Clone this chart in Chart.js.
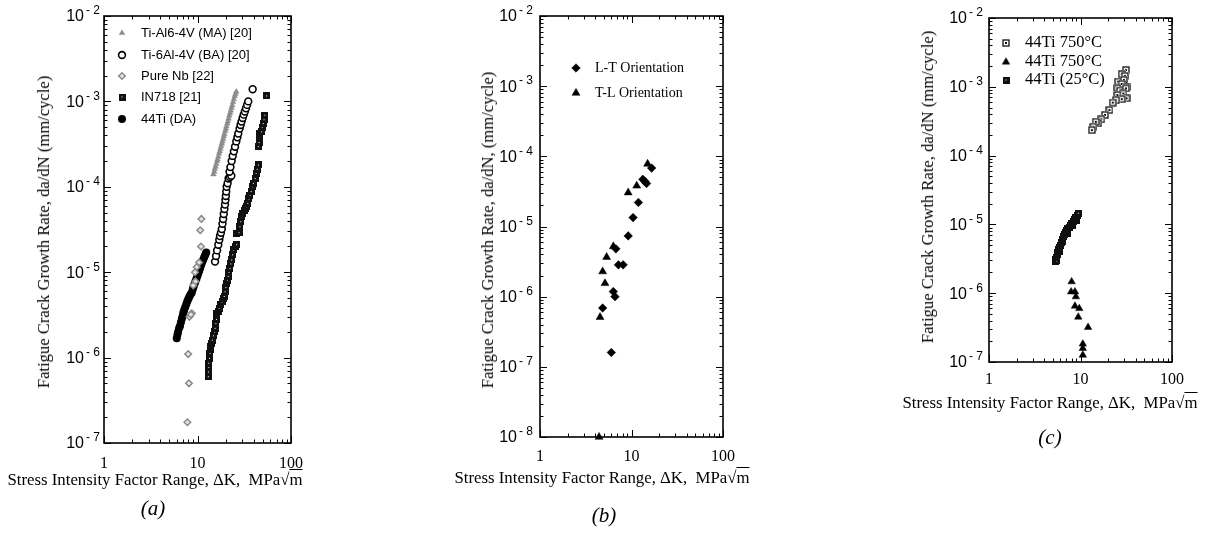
<!DOCTYPE html>
<html><head><meta charset="utf-8">
<script src="https://cdn.jsdelivr.net/npm/chart.js@4/dist/chart.umd.min.js"></script>
<style>
body{margin:0;width:1206px;height:536px;background:#fff;position:relative;overflow:hidden;font-family:'Liberation Serif','Times New Roman',serif;color:#000;}
canvas{position:absolute;top:0;}
.t{position:absolute;white-space:nowrap;color:#000;}
.yt{transform:translate(-50%,-50%) rotate(-90deg);font-size:16.6px;}
.xt{transform:translate(-50%,-50%);font-size:16.8px;}
.cap{transform:translate(-50%,-50%);font-size:21px;font-style:italic;}
.ov{text-decoration:overline;}
</style></head><body>
<canvas id="ca" width="320" height="536" style="left:0"></canvas>
<canvas id="cb" width="360" height="536" style="left:400px"></canvas>
<canvas id="cc" width="346" height="536" style="left:860px"></canvas>

<div class="t yt" style="left:44px;top:232px">Fatigue Crack Growth Rate, da/dN (mm/cycle)</div>
<div class="t yt" style="left:488px;top:230px">Fatigue Crack Growth Rate, da/dN, (mm/cycle)</div>
<div class="t yt" style="left:928px;top:187px">Fatigue Crack Growth Rate, da/dN (mm/cycle)</div>
<div class="t xt" style="left:155px;top:480px">Stress Intensity Factor Range, ΔK,&nbsp; MPa√<span class="ov">m</span></div>
<div class="t xt" style="left:602px;top:478px">Stress Intensity Factor Range, ΔK,&nbsp; MPa√<span class="ov">m</span></div>
<div class="t xt" style="left:1050px;top:403px">Stress Intensity Factor Range, ΔK,&nbsp; MPa√<span class="ov">m</span></div>
<div class="t cap" style="left:153px;top:508px">(<i>a</i>)</div>
<div class="t cap" style="left:604px;top:515px">(<i>b</i>)</div>
<div class="t cap" style="left:1050px;top:437px">(<i>c</i>)</div>

<script>
// ---------- tick values / labels ----------
const xMajors = [1, 10, 100];
const xMajorLabels = ['1', '10', '100'];
const yMajorsA = [1e-7, 1e-6, 1e-5, 1e-4, 1e-3, 1e-2];
const yExpsA = ['-7', '-6', '-5', '-4', '-3', '-2'];
const yMajorsB = [1e-8, 1e-7, 1e-6, 1e-5, 1e-4, 1e-3, 1e-2];
const yExpsB = ['-8', '-7', '-6', '-5', '-4', '-3', '-2'];
const yMajorsC = [1e-7, 1e-6, 1e-5, 1e-4, 1e-3, 1e-2];
const yExpsC = ['-7', '-6', '-5', '-4', '-3', '-2'];

// ---------- panel (a) data: [ΔK, da/dN] ----------
const labelsA = ['Ti-Al6-4V (MA) [20]', 'Ti-6Al-4V (BA) [20]', 'Pure Nb [22]', 'IN718 [21]', '44Ti (DA)'];
const tiMA = [[14.8,1.4e-4],[15.1,1.5e-4],[15.3,1.62e-4],[15.6,1.72e-4],[15.9,1.85e-4],[16.2,2.0e-4],[16.4,2.1e-4],[16.7,2.25e-4],[17.0,2.45e-4],[17.3,2.6e-4],[17.6,2.8e-4],[17.9,3.0e-4],[18.2,3.2e-4],[18.5,3.4e-4],[18.8,3.65e-4],[19.1,3.9e-4],[19.4,4.15e-4],[19.8,4.5e-4],[20.1,4.8e-4],[20.4,5.1e-4],[20.8,5.5e-4],[21.1,5.85e-4],[21.5,6.3e-4],[21.9,6.8e-4],[22.3,7.3e-4],[22.7,7.8e-4],[23.1,8.4e-4],[23.5,9.0e-4],[24.0,9.8e-4],[24.5,1.06e-3],[25.0,1.15e-3],[25.5,1.22e-3],[26.0,1.3e-3]];
const tiBA = [[15.4,1.33e-5],[15.8,1.55e-5],[16.2,1.8e-5],[16.7,2.1e-5],[17.1,2.4e-5],[17.4,2.65e-5],[17.8,2.9e-5],[18.2,3.2e-5],[18.5,3.7e-5],[18.8,4.2e-5],[19.1,4.8e-5],[19.4,5.5e-5],[19.7,6.2e-5],[19.9,7.0e-5],[20.1,7.8e-5],[20.3,8.8e-5],[20.5,1.0e-4],[21.0,1.1e-4],[21.5,1.25e-4],[22.2,1.3e-4],[23.0,1.35e-4],[22.0,1.5e-4],[22.5,1.7e-4],[23.2,2.0e-4],[23.8,2.3e-4],[24.5,2.6e-4],[25.2,2.95e-4],[26.0,3.4e-4],[26.7,3.8e-4],[27.3,4.2e-4],[28.2,4.8e-4],[28.9,5.3e-4],[29.6,5.8e-4],[30.4,6.4e-4],[31.2,7.0e-4],[32.1,7.6e-4],[33.0,8.3e-4],[33.9,9.1e-4],[34.9,1.0e-3],[38.9,1.39e-3]];
const pureNb = [[11.0,4.2e-5],[10.7,3.1e-5],[10.9,2.0e-5],[10.4,1.3e-5],[9.8,1.15e-5],[9.4,1.0e-5],[9.5,7.8e-6],[9.0,7.0e-6],[8.7,3.3e-6],[8.2,3.0e-6],[8.5,3.2e-6],[7.95,1.1e-6],[8.1,5.0e-7],[7.8,1.75e-7]];
const in718 = [[13.05,5.97e-7],[13.1,6.8e-7],[13.2,7.7e-7],[13.2,8.6e-7],[13.4,9.8e-7],[13.6,1.12e-6],[13.7,1.25e-6],[13.9,1.36e-6],[14.1,1.47e-6],[14.4,1.6e-6],[14.8,1.8e-6],[15.2,2.0e-6],[15.4,2.2e-6],[15.7,2.5e-6],[16.0,2.8e-6],[16.1,3.3e-6],[16.6,3.5e-6],[17.1,3.8e-6],[17.7,4.2e-6],[18.3,4.5e-6],[18.8,4.9e-6],[19.3,5.2e-6],[19.7,5.9e-6],[20.1,6.6e-6],[20.5,7.4e-6],[20.9,8.1e-6],[21.3,8.9e-6],[21.7,1.0e-5],[22.2,1.1e-5],[22.7,1.25e-5],[23.2,1.39e-5],[23.7,1.6e-5],[24.2,1.82e-5],[25.2,2.0e-5],[26.2,2.1e-5],[26.2,2.85e-5],[27.8,2.9e-5],[28.4,3.4e-5],[29.0,3.9e-5],[29.6,4.47e-5],[30.5,4.9e-5],[31.5,5.3e-5],[32.4,5.6e-5],[33.4,5.85e-5],[34.5,6.4e-5],[35.5,7.2e-5],[36.4,8.0e-5],[37.5,8.8e-5],[38.9,1.0e-4],[39.6,1.1e-4],[41.3,1.25e-4],[42.3,1.44e-4],[43.5,1.6e-4],[44.7,1.8e-4],[44.7,2.95e-4],[45.5,3.3e-4],[46.5,3.87e-4],[45.8,4.2e-4],[48.4,4.4e-4],[49.3,5.0e-4],[50.5,5.5e-4],[51.5,6.1e-4],[52.6,6.9e-4],[54.8,1.16e-3]];
const ti44DA = [[6.0,1.68e-6],[6.1,1.85e-6],[6.2,2.0e-6],[6.35,2.2e-6],[6.5,2.35e-6],[6.65,2.6e-6],[6.8,2.85e-6],[6.95,3.1e-6],[7.05,3.35e-6],[7.2,3.6e-6],[7.4,3.9e-6],[7.6,4.25e-6],[7.8,4.6e-6],[8.0,4.9e-6],[8.2,5.2e-6],[8.45,5.5e-6],[8.7,5.8e-6],[8.9,6.3e-6],[9.1,6.8e-6],[9.3,7.3e-6],[9.5,7.8e-6],[9.75,8.4e-6],[10.0,9.1e-6],[10.2,9.7e-6],[10.45,1.05e-5],[10.7,1.13e-5],[10.95,1.22e-5],[11.2,1.31e-5],[11.5,1.4e-5],[11.8,1.5e-5],[12.1,1.6e-5],[12.4,1.7e-5]];

// ---------- panel (b) data ----------
const labelsB = ['L-T Orientation', 'T-L Orientation'];
const orientLT = [[16.6,6.8e-5],[14.6,4.1e-5],[13.3,4.7e-5],[14.0,4.4e-5],[11.9,2.2e-5],[10.4,1.34e-5],[9.2,7.35e-6],[6.75,4.8e-6],[8.1,2.84e-6],[7.2,2.84e-6],[6.33,1.18e-6],[6.6,1.0e-6],[4.84,6.9e-7],[6.02,1.6e-7]];
const orientTL = [[15.0,7.8e-5],[11.4,3.8e-5],[9.2,3.04e-5],[6.33,5.2e-6],[5.35,3.66e-6],[4.84,2.28e-6],[5.13,1.55e-6],[4.53,5.1e-7],[4.42,1e-8]];

// ---------- panel (c) data ----------
const labelsC = ['44Ti 750°C', '44Ti 750°C', '44Ti (25°C)'];
const ti750sq = [[31.4,1.75e-3],[28.2,1.53e-3],[30.5,1.44e-3],[29.8,1.26e-3],[25.8,1.19e-3],[28.2,1.10e-3],[32.4,1.0e-3],[31.4,9.5e-4],[25.3,9.5e-4],[27.0,8.8e-4],[29.4,8.0e-4],[31.9,6.8e-4],[25.3,7.6e-4],[28.2,6.6e-4],[24.5,6.4e-4],[22.5,5.9e-4],[20.7,4.6e-4],[18.5,3.9e-4],[16.9,3.37e-4],[15.6,2.95e-4],[14.7,3.1e-4],[13.8,2.63e-4],[13.3,2.35e-4]];
const ti750tri = [[8.0,1.47e-6],[7.9,1.05e-6],[8.7,1.05e-6],[8.9,8.9e-7],[8.7,6.5e-7],[9.7,6.0e-7],[9.45,4.5e-7],[12.1,3.2e-7],[10.6,1.83e-7],[10.6,1.58e-7],[10.6,1.26e-7]];
const ti25 = [[5.27,2.87e-6],[5.35,3.1e-6],[5.5,2.95e-6],[5.45,3.3e-6],[5.55,3.6e-6],[5.65,3.95e-6],[5.9,4.0e-6],[5.75,4.25e-6],[5.9,4.6e-6],[6.05,5.0e-6],[6.2,5.5e-6],[6.4,5.6e-6],[6.3,6.1e-6],[6.45,6.6e-6],[6.65,7.1e-6],[7.2,7.4e-6],[6.85,7.6e-6],[7.05,8.1e-6],[7.3,8.6e-6],[7.55,9.0e-6],[8.2,9.5e-6],[7.8,9.6e-6],[8.05,1.03e-5],[8.3,1.1e-5],[9.0,1.15e-5],[8.6,1.18e-5],[8.9,1.27e-5],[9.2,1.36e-5],[9.47,1.45e-5]];

// ---------- marker images ----------
function filledSquare(){
  const c = document.createElement('canvas'); c.width = 7; c.height = 7;
  const g = c.getContext('2d');
  g.fillStyle = '#111'; g.fillRect(0,0,7,7);
  g.fillStyle = '#fff'; g.fillRect(3,3,1,1);
  return c;
}
function openSquare(){
  const c = document.createElement('canvas'); c.width = 8; c.height = 8;
  const g = c.getContext('2d');
  g.fillStyle = '#fff'; g.fillRect(0,0,8,8);
  g.strokeStyle = '#111'; g.lineWidth = 1.3; g.strokeRect(1,1,6,6);
  g.fillStyle = '#111'; g.fillRect(3,3,2,2);
  return c;
}
const imgFilled = filledSquare();
const imgOpen = openSquare();

function pts(arr){ return arr.map(p => ({x: p[0], y: p[1]})); }

function minorTicks(majors){
  const out = [];
  majors.forEach((m, i) => {
    out.push({value: m, major: true});
    if (i < majors.length - 1) for (let d = 2; d <= 9; d++) out.push({value: d * m, major: false});
  });
  return out;
}

// ---------- plugins ----------
const framePlugin = {
  id: 'frame',
  afterDraw(chart, args, o) {
    const {ctx, chartArea: a} = chart;
    const xs = chart.scales.x, ys = chart.scales.y;
    ctx.save();
    ctx.strokeStyle = '#000';
    ctx.lineWidth = 1;
    ctx.beginPath();
    xs.ticks.forEach(t => {
      const px = Math.round(xs.getPixelForValue(t.value)) + 0.5;
      const L = t.major ? 7 : 3.5;
      ctx.moveTo(px, a.bottom); ctx.lineTo(px, a.bottom - L);
      ctx.moveTo(px, a.top); ctx.lineTo(px, a.top + L);
    });
    ys.ticks.forEach(t => {
      const py = Math.round(ys.getPixelForValue(t.value)) + 0.5;
      const L = t.major ? 7 : 3.5;
      ctx.moveTo(a.left, py); ctx.lineTo(a.left + L, py);
      ctx.moveTo(a.right, py); ctx.lineTo(a.right - L, py);
    });
    ctx.stroke();
    ctx.lineWidth = 1.6;
    ctx.strokeRect(a.left, a.top, a.right - a.left, a.bottom - a.top);
    // y tick labels: 10 with superscript exponent
    ctx.fillStyle = '#000';
    ctx.textBaseline = 'middle';
    ctx.textAlign = 'left';
    o.majors.forEach((v, i) => {
      const py = ys.getPixelForValue(v);
      const exp = o.exps[i].replace('-', '- ');
      ctx.font = '16px "Liberation Sans", Arial, sans-serif';
      const w10 = ctx.measureText('10').width;
      ctx.font = '12px "Liberation Sans", Arial, sans-serif';
      const we = ctx.measureText(exp).width;
      const x0 = a.left - o.gap - we - w10 - 2;
      ctx.font = '16px "Liberation Sans", Arial, sans-serif';
      ctx.fillText('10', x0, py + 1);
      ctx.font = '12px "Liberation Sans", Arial, sans-serif';
      ctx.fillText(exp, x0 + w10 + 2, py - 5);
    });
    ctx.restore();
  }
};

const legendPlugin = {
  id: 'inLegend',
  afterDraw(chart, args, o) {
    const ctx = chart.ctx;
    chart.data.datasets.forEach((ds, i) => {
      const yy = o.rows[i];
      ctx.save();
      ctx.fillStyle = ds.backgroundColor;
      ctx.strokeStyle = ds.borderColor;
      ctx.lineWidth = ds.borderWidth;
      Chart.helpers.drawPoint(ctx, {pointStyle: ds.pointStyle, radius: ds.pointRadius, borderWidth: ds.borderWidth, rotation: 0}, o.mx, yy);
      ctx.restore();
      ctx.save();
      ctx.font = o.font;
      ctx.fillStyle = '#000';
      ctx.textBaseline = 'middle';
      ctx.textAlign = 'left';
      ctx.fillText(ds.label, o.tx, yy);
      ctx.restore();
    });
  }
};

function makeChart(id, cfg){
  const canvas = document.getElementById(id);
  const W = canvas.width, H = canvas.height;
  return new Chart(canvas, {
    type: 'scatter',
    data: {datasets: cfg.datasets.map(d => Object.assign({showLine: false, clip: false, pointHoverRadius: d.pointRadius}, d))},
    options: {
      responsive: false,
      animation: false,
      events: [],
      layout: {padding: {left: 0, top: cfg.area.top, right: W - cfg.area.right, bottom: 0}},
      scales: {
        x: {
          type: 'logarithmic', min: 1, max: 100,
          grid: {display: false}, border: {display: false},
          afterBuildTicks: s => { s.ticks = minorTicks(xMajors); },
          afterFit: s => { s.height = H - cfg.area.bottom; },
          ticks: {
            autoSkip: false, maxRotation: 0, minRotation: 0, padding: cfg.xpad, color: '#000',
            font: {family: '"Liberation Serif", "Times New Roman", serif', size: 16},
            callback: (v) => { const i = xMajors.indexOf(v); return i >= 0 ? xMajorLabels[i] : ''; }
          }
        },
        y: {
          type: 'logarithmic', min: cfg.yMajors[0], max: cfg.yMajors[cfg.yMajors.length - 1],
          grid: {display: false}, border: {display: false},
          afterBuildTicks: s => { s.ticks = minorTicks(cfg.yMajors); },
          afterFit: s => { s.width = cfg.area.left; },
          ticks: {display: false, autoSkip: false}
        }
      },
      plugins: {
        legend: {display: false},
        tooltip: {enabled: false},
        frame: {majors: cfg.yMajors, exps: cfg.yExps, gap: cfg.gap},
        inLegend: cfg.legend
      }
    },
    plugins: [framePlugin, legendPlugin]
  });
}

makeChart('ca', {
  area: {left: 104, right: 291, top: 16, bottom: 443},
  yMajors: yMajorsA, yExps: yExpsA, gap: 4, xpad: 3,
  legend: {mx: 122, tx: 141, rows: [33, 55, 76, 97, 119], font: '13px "Liberation Sans", Arial, sans-serif'},
  datasets: [
    {label: labelsA[0], data: pts(tiMA), pointStyle: 'triangle', pointRadius: 3.2, borderWidth: 0.5, backgroundColor: '#8c8c8c', borderColor: '#8c8c8c'},
    {label: labelsA[1], data: pts(tiBA), pointStyle: 'circle', pointRadius: 3.4, borderWidth: 1.6, backgroundColor: '#fff', borderColor: '#000'},
    {label: labelsA[2], data: pts(pureNb), pointStyle: 'rectRot', pointRadius: 3.3, borderWidth: 1.5, backgroundColor: '#e4e4e4', borderColor: '#8a8a8a'},
    {label: labelsA[3], data: pts(in718), pointStyle: imgFilled, pointRadius: 3.5, borderWidth: 0, backgroundColor: '#111', borderColor: '#111'},
    {label: labelsA[4], data: pts(ti44DA), pointStyle: 'circle', pointRadius: 4, borderWidth: 0, backgroundColor: '#000', borderColor: '#000'}
  ]
});

makeChart('cb', {
  area: {left: 140, right: 323, top: 16, bottom: 437},
  yMajors: yMajorsB, yExps: yExpsB, gap: 7, xpad: 2,
  legend: {mx: 176, tx: 195, rows: [68, 93], font: '14px "Liberation Serif", "Times New Roman", serif'},
  datasets: [
    {label: labelsB[0], data: pts(orientLT), pointStyle: 'rectRot', pointRadius: 4.3, borderWidth: 0.5, backgroundColor: '#000', borderColor: '#000'},
    {label: labelsB[1], data: pts(orientTL), pointStyle: 'triangle', pointRadius: 4.6, borderWidth: 0.5, backgroundColor: '#000', borderColor: '#000'}
  ]
});

makeChart('cc', {
  area: {left: 129, right: 312, top: 18, bottom: 362},
  yMajors: yMajorsC, yExps: yExpsC, gap: 6, xpad: 0,
  legend: {mx: 146, tx: 165, rows: [43, 62, 80], font: '16.5px "Liberation Serif", "Times New Roman", serif'},
  datasets: [
    {label: labelsC[0], data: pts(ti750sq), pointStyle: imgOpen, pointRadius: 4, borderWidth: 0, backgroundColor: '#fff', borderColor: '#111'},
    {label: labelsC[1], data: pts(ti750tri), pointStyle: 'triangle', pointRadius: 4.3, borderWidth: 0.5, backgroundColor: '#000', borderColor: '#000'},
    {label: labelsC[2], data: pts(ti25), pointStyle: imgFilled, pointRadius: 3.5, borderWidth: 0, backgroundColor: '#111', borderColor: '#111'}
  ]
});
</script>
</body></html>
